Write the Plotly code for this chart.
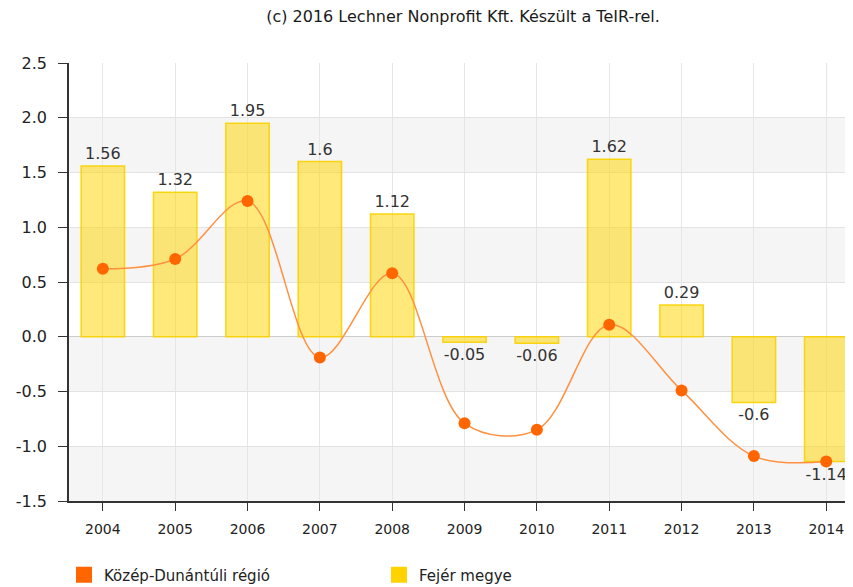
import plotly.graph_objects as go

years = ["2004", "2005", "2006", "2007", "2008", "2009", "2010", "2011", "2012", "2013", "2014"]
fejer_megye = [1.56, 1.32, 1.95, 1.6, 1.12, -0.05, -0.06, 1.62, 0.29, -0.6, -1.14]
kozep_dunantul = [0.62, 0.71, 1.24, -0.19, 0.58, -0.79, -0.85, 0.11, -0.49, -1.09, -1.14]
y_ticks = [-1.5, -1.0, -0.5, 0.0, 0.5, 1.0, 1.5, 2.0, 2.5]
title_text = "(c) 2016 Lechner Nonprofit Kft. Készült a TeIR-rel."
name_line = "Közép-Dunántúli régió"
name_bar = "Fejér megye"

FONT = "DejaVu Sans"
W, H = 853, 587
OFF = 8  # page body margin

fig = go.Figure()

fig.add_trace(go.Bar(
    x=years, y=fejer_megye, name=name_bar, showlegend=False,
    marker=dict(color="rgba(255,212,0,0.52)", line=dict(color="rgba(250,210,0,0.9)", width=1.5)),
    width=0.6,
    text=[str(v) for v in fejer_megye], textposition="outside",
    textfont=dict(family=FONT, size=16, color="#333333"),
    cliponaxis=False,
))

fig.add_trace(go.Scatter(
    x=years, y=kozep_dunantul, name=name_line, showlegend=False,
    mode="lines+markers",
    line=dict(color="#FF9040", width=1.5, shape="spline", smoothing=1.0),
    marker=dict(color="#FF6600", size=12),
    cliponaxis=False,
))

# legend entries
fig.add_trace(go.Scatter(x=[None], y=[None], name=name_line, mode="markers",
                         marker=dict(symbol="square", size=16, color="#FF6600")))
fig.add_trace(go.Scatter(x=[None], y=[None], name=name_bar, mode="markers",
                         marker=dict(symbol="square", size=16, color="#FFD200")))

# alternating bands
shapes = []
for i in range(len(y_ticks) - 1):
    lo, hi = y_ticks[i], y_ticks[i + 1]
    if i % 2 == 0:
        shapes.append(dict(type="rect", xref="paper", yref="y", x0=0, x1=1, y0=lo, y1=hi,
                           fillcolor="#F5F5F5", line=dict(width=0), layer="below"))

left, top, bottom_px = 64 - OFF, 63 - OFF, 501 - OFF

fig.update_layout(
    width=W, height=H,
    margin=dict(l=left, r=OFF, t=top, b=H - bottom_px),
    paper_bgcolor="white", plot_bgcolor="white",
    title=dict(text=title_text, x=(463 - OFF) / W, xanchor="center", y=1 - (16 - OFF) / H, yanchor="middle",
               font=dict(family=FONT, size=16, color="#1a1a1a")),
    shapes=shapes,
    showlegend=True,
    legend=dict(orientation="h", xref="container", yref="container",
                x=(64 - OFF) / W, y=1 - (575 - OFF) / H, xanchor="left", yanchor="middle",
                entrywidth=270, entrywidthmode="pixels",
                font=dict(family=FONT, size=15, color="#222222"),
                itemsizing="trace"),
    xaxis=dict(type="category", range=[-0.468, 10.37],
               showgrid=True, gridcolor="#E6E6E6", gridwidth=1,
               showline=True, linecolor="#333333", linewidth=1.5,
               ticks="outside", ticklen=8, tickcolor="#333333", tickwidth=1,
               ticklabelstandoff=6,
               tickfont=dict(family=FONT, size=14, color="#222222")),
    yaxis=dict(range=[-1.5, 2.5], tickvals=y_ticks, ticktext=[f"{v:.1f}" for v in y_ticks],
               showgrid=True, gridcolor="#E3E3E3", gridwidth=1,
               zeroline=True, zerolinecolor="#CCCCCC", zerolinewidth=1,
               showline=True, linecolor="#333333", linewidth=1.5,
               ticks="outside", ticklen=9, tickcolor="#333333", tickwidth=1,
               ticklabelstandoff=8,
               tickfont=dict(family=FONT, size=16, color="#222222")),
)

fig.write_html("out.html")
